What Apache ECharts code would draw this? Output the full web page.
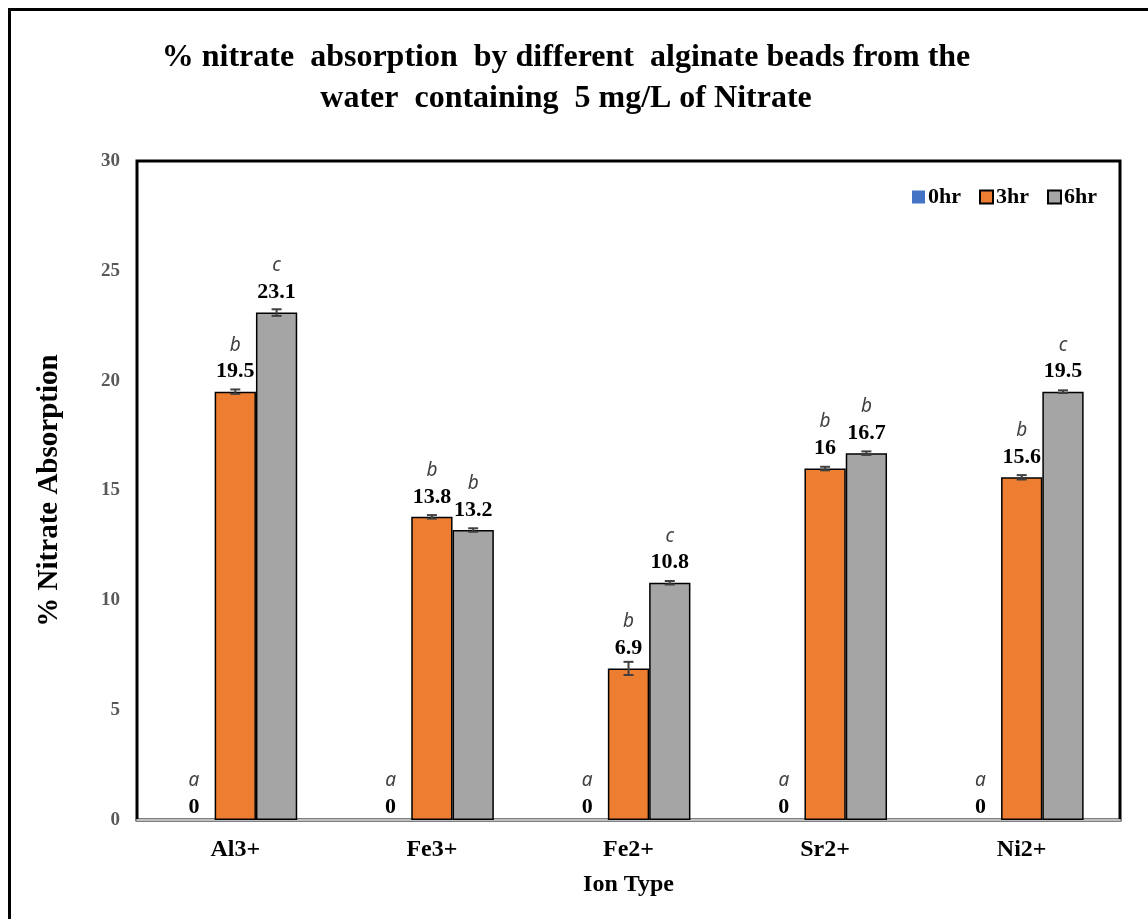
<!DOCTYPE html>
<html>
<head>
<meta charset="utf-8">
<title>% nitrate absorption by alginate beads</title>
<script src="https://cdn.jsdelivr.net/npm/echarts@6/dist/echarts.min.js"></script>
<style>
  html, body { margin: 0; padding: 0; background: #ffffff; }
  #chart { width: 1148px; height: 919px; }
</style>
</head>
<body>
<div id="chart"></div>
<script>
// Ion types of the alginate beads
const categories = ['Al3+', 'Fe3+', 'Fe2+', 'Sr2+', 'Ni2+'];
const seriesNames = ['0hr', '3hr', '6hr'];

// % nitrate absorption per contact time
const values0hr = [0, 0, 0, 0, 0];
const values3hr = [19.5, 13.8, 6.9, 16.0, 15.6];
const values6hr = [23.1, 13.2, 10.8, 16.7, 19.5];

// Standard errors (± around each mean)
const err3hr = [0.10, 0.08, 0.30, 0.08, 0.10];
const err6hr = [0.15, 0.08, 0.08, 0.08, 0.06];

// Significance letters shown above each bar
const letters0hr = ['a', 'a', 'a', 'a', 'a'];
const letters3hr = ['b', 'b', 'b', 'b', 'b'];
const letters6hr = ['c', 'b', 'c', 'b', 'c'];

// Y-axis ticks
const yTicks = { min: 0, max: 30, interval: 5 };

const colors = ['#4472C4', '#ED7D31', '#A5A5A5'];
const serif = '"Liberation Serif", "Times New Roman", serif';
const CATEGORY_GAP = 0.37;

function labelledData(values, letters) {
  return values.map((v, i) => ({
    value: v,
    letter: letters[i],
    label: { distance: v === 0 ? 0 : 7 }
  }));
}

function barSeries(name, values, letters, color, bordered) {
  return {
    name: name,
    type: 'bar',
    barGap: '0%',
    barCategoryGap: (CATEGORY_GAP * 100) + '%',
    itemStyle: {
      color: color,
      borderColor: bordered ? '#000000' : color,
      borderWidth: bordered ? 1.5 : 0
    },
    label: {
      show: true,
      position: 'top',
      formatter: p => '{l|' + p.data.letter + '}\n{v|' + p.value + '}',
      rich: {
        l: { fontFamily: '"Noto Sans", "Open Sans", sans-serif', fontStyle: 'italic',
             fontSize: 19, color: '#404040', lineHeight: 27, align: 'center' },
        v: { fontFamily: serif, fontWeight: 'bold', fontSize: 22,
             color: '#000000', lineHeight: 26, align: 'center' }
      }
    },
    data: labelledData(values, letters),
    z: 2
  };
}

// Error bar rows: [category index, bar offset within group, low, high]
const errorRows = [];
values3hr.forEach((v, i) => errorRows.push([i, 0, v - err3hr[i], v + err3hr[i]]));
values6hr.forEach((v, i) => errorRows.push([i, 1, v - err6hr[i], v + err6hr[i]]));

function renderErrorBar(params, api) {
  const cat = api.value(0);
  const off = api.value(1);
  const band = api.size([1, 0])[0];
  const bw = band * (1 - CATEGORY_GAP) / 3;
  const x = api.coord([cat, 0])[0] + off * bw;
  const yLo = api.coord([cat, api.value(2)])[1];
  const yHi = api.coord([cat, api.value(3)])[1];
  const cap = 5;
  const style = { stroke: '#404040', lineWidth: 2 };
  return {
    type: 'group',
    children: [
      { type: 'line', shape: { x1: x, y1: yLo, x2: x, y2: yHi }, style: style },
      { type: 'line', shape: { x1: x - cap, y1: yHi, x2: x + cap, y2: yHi }, style: style },
      { type: 'line', shape: { x1: x - cap, y1: yLo, x2: x + cap, y2: yLo }, style: style }
    ]
  };
}

const chart = echarts.init(document.getElementById('chart'), null, { renderer: 'canvas' });

chart.setOption({
  animation: false,
  backgroundColor: '#ffffff',
  title: {
    text: '% nitrate  absorption  by different  alginate beads from the\nwater  containing  5 mg/L of Nitrate',
    left: 561,
    textAlign: 'center',
    top: 32,
    textStyle: {
      fontFamily: serif, fontWeight: 'bold', fontSize: 32,
      color: '#000000', lineHeight: 41
    }
  },
  graphic: [{
    type: 'rect',
    shape: { x: 9.5, y: 9.5, width: 1300, height: 1100 },
    style: { fill: 'none', stroke: '#000000', lineWidth: 3 },
    silent: true
  }],
  legend: {
    data: seriesNames,
    top: 181,
    right: 46,
    itemWidth: 13,
    itemHeight: 13,
    itemGap: 18,
    icon: 'rect',
    textStyle: { fontFamily: serif, fontWeight: 'bold', fontSize: 22, color: '#000000', padding: [0, 0, 0, -2] }
  },
  grid: {
    left: 137, top: 161, right: 28, bottom: 99,
    show: true, borderColor: '#000000', borderWidth: 3,
    backgroundColor: 'transparent'
  },
  xAxis: {
    type: 'category',
    data: categories,
    name: 'Ion Type',
    nameLocation: 'middle',
    nameGap: 53,
    nameTextStyle: { fontFamily: serif, fontWeight: 'bold', fontSize: 24, color: '#000000' },
    axisLine: { show: true, lineStyle: { color: '#BFBFBF', width: 2 } },
    axisTick: { show: false },
    axisLabel: { margin: 18, fontFamily: serif, fontWeight: 'bold', fontSize: 24, color: '#000000' }
  },
  yAxis: {
    type: 'value',
    min: yTicks.min,
    max: yTicks.max,
    interval: yTicks.interval,
    name: '% Nitrate Absorption',
    nameLocation: 'middle',
    nameGap: 73,
    nameRotate: 90,
    nameTextStyle: { fontFamily: serif, fontWeight: 'bold', fontSize: 29, color: '#000000' },
    axisLine: { show: false },
    axisTick: { show: false },
    splitLine: { show: false },
    axisLabel: { margin: 17, fontFamily: serif, fontWeight: 'bold', fontSize: 19, color: '#595959' }
  },
  series: [
    barSeries(seriesNames[0], values0hr, letters0hr, colors[0], false),
    barSeries(seriesNames[1], values3hr, letters3hr, colors[1], true),
    barSeries(seriesNames[2], values6hr, letters6hr, colors[2], true),
    {
      type: 'custom',
      renderItem: renderErrorBar,
      data: errorRows,
      encode: { x: 0, y: [2, 3] },
      silent: true,
      z: 3
    }
  ]
});
</script>
</body>
</html>
